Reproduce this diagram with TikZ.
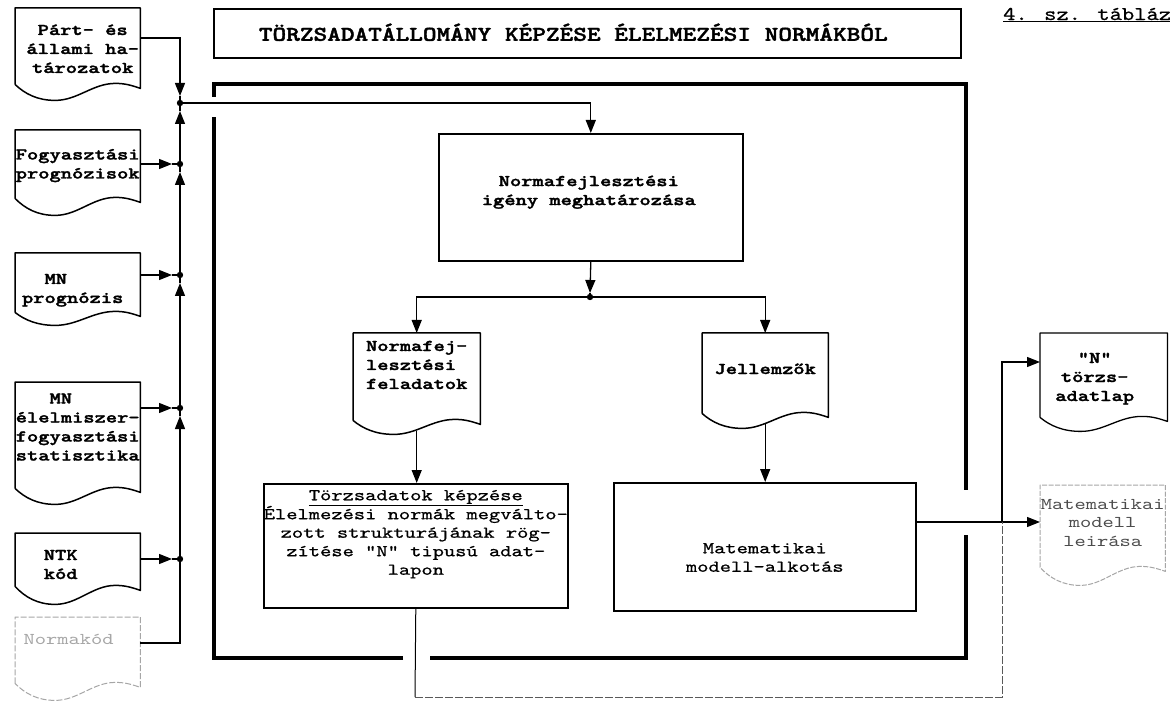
\documentclass[tikz,border=0pt]{standalone}
\usepackage{graphicx}
\usepackage{fontspec}
\newfontfamily\twbfam{lmmonolt10-bold.otf}[FakeBold=1.6]
\newfontfamily\twrfam{lmmono10-regular.otf}[FakeBold=0.6]
\newfontfamily\twlfam{lmmono10-regular.otf}
\usetikzlibrary{arrows.meta,calc}
\newcommand\bodyb{\twbfam\fontsize{16.5}{19}\selectfont}
\newcommand\bodyr{\twrfam\fontsize{16.5}{18.5}\selectfont}
\newcommand\bodyl{\twlfam\fontsize{16.5}{18.5}\selectfont}
\newcommand\tw[2][c]{\scalebox{1.3}[1]{\begin{tabular}{@{}#1@{}}#2\end{tabular}}}
% document symbol outline drawn round a node: #1 style, #2 node, #3 dip
\newcommand\docout[3][]{%
  \draw[line width=1.5pt,line join=round,#1] (#2.south west) -- (#2.north west) -- (#2.north east) -- ($(#2.south east)+(0,4)$)
   .. controls ($(#2.south west)!0.93!(#2.south east)+(0,1)$) and ($(#2.south west)!0.88!(#2.south east)+(0,-1)$) .. ($(#2.south west)!0.8!(#2.south east)+(0,-1)$)
   .. controls ($(#2.south west)!0.62!(#2.south east)+(0,-1)$) and ($(#2.south west)!0.5!(#2.south east)+(0,#3)$) .. ($(#2.south west)!0.32!(#2.south east)+(0,#3)$)
   .. controls ($(#2.south west)!0.18!(#2.south east)+(0,#3)$) and ($(#2.south west)!0.08!(#2.south east)+(0,0.6*#3)$) .. (#2.south west);}
\tikzset{
  conn/.style={line width=1.3pt},
  arr/.style={conn,-{Triangle[length=13pt,width=10pt]}},
  docn/.style={inner sep=0pt,anchor=north west},
  boxn/.style={draw,line width=1.6pt,inner sep=0pt,anchor=north west},
  frame/.style={line width=4.5pt},
  tb/.style={font=\bodyb,inner sep=0pt},
  tr/.style={font=\bodyr,inner sep=0pt},
  tl/.style={font=\bodyl,inner sep=0pt},
  faint/.style={gray!70},
}
\begin{document}
\begin{tikzpicture}[x=1pt,y=-1pt]
\useasboundingbox[fill=white] (0,0) rectangle (1170,711);

% title
\node[boxn,minimum width=747pt,minimum height=49pt,
  label={[inner sep=0pt,xshift=-14pt,yshift=1pt]center:\scalebox{1.24}[1]{\twbfam\fontsize{21}{24}\selectfont TÖRZSADATÁLLOMÁNY KÉPZÉSE ÉLELMEZÉSI NORMÁKBÓL}}] (title) at (213,8) {};
\node[anchor=west,inner sep=0pt] (tab) at (1003,15) {\scalebox{1.2}[1]{\twrfam\fontsize{19.5}{22}\selectfont\underline{4. sz. tábláz}}};

% frame
\draw[frame] (214,97) -- (214,84) -- (966,84) -- (966,490);
\draw[frame] (966,535) -- (966,658) -- (430,658);
\draw[frame] (403,658) -- (214,658) -- (214,117);

% left input documents
\node[docn,minimum width=125pt,minimum height=76pt,label={[tb,xshift=5pt,yshift=-4pt]center:\tw{Párt- és\\állami ha-\\tározatok}}] (d1) at (15,8) {};
\node[docn,minimum width=125pt,minimum height=68pt,label={[tb,yshift=-1pt]center:\tw{Fogyasztási\\prognózisok}}] (d2) at (15,130) {};
\node[docn,minimum width=125pt,minimum height=59pt,label={[tb,xshift=-5pt,yshift=-7pt]center:\tw[l]{~~MN\\prognózis}}] (d3) at (15,253) {};
\node[docn,minimum width=125pt,minimum height=106pt,label={[tb,yshift=7pt]center:\tw[l]{~~~MN\\élelmiszer-\\fogyasztási\\statisztika}}] (d4) at (15,382) {};
\node[docn,minimum width=125pt,minimum height=53pt,label={[tb,xshift=-17pt,yshift=-6pt]center:\tw{NTK\\kód}}] (d5) at (15,533) {};
\node[docn,minimum width=125pt,minimum height=66pt,label={[tl,faint,xshift=-9pt,yshift=9pt]center:\tw{Normakód}}] (d6) at (15,617) {};
\docout{d1}{16}
\docout{d2}{17}
\docout{d3}{13}
\docout{d4}{16}
\docout{d5}{18}
\docout[faint,line width=1pt,dash pattern=on 6pt off 2pt]{d6}{17}

% central boxes and documents
\node[boxn,minimum width=304pt,minimum height=127pt,label={[tb,xshift=-2pt,yshift=5.5pt]center:\tw{Normafejlesztési\\igény meghatározása}}] (B1) at (438,133) {};
\node[docn,minimum width=127pt,minimum height=87pt,label={[tb,yshift=10.5pt]center:\tw[l]{Normafej-\\lesztési\\feladatok}}] (D7) at (353,333) {};
\node[docn,minimum width=126pt,minimum height=80pt,label={[tb,yshift=3pt]center:\tw{Jellemzők}}] (D8) at (702,333) {};
\docout{D7}{14}
\docout{D8}{15}
\node[boxn,minimum width=304pt,minimum height=124pt,label={[tr,yshift=12pt]center:\tw{\underline{Törzsadatok képzése}\\Élelmezési normák megválto-\\zott strukturájának rög-\\zítése "N" tipusú adat-\\lapon}}] (B2) at (263,483) {};
\node[boxn,minimum width=302pt,minimum height=128pt,label={[tr,yshift=-12pt]center:\tw{Matematikai\\modell-alkotás}}] (B3) at (613,482) {};

% output documents
\node[docn,minimum width=127pt,minimum height=84pt,label={[tb,xshift=-9pt,yshift=-3pt]center:\tw{"N"\\törzs-\\adatlap}}] (D10) at (1040,333) {};
\node[docn,minimum width=125pt,minimum height=82pt,label={[tl,gray!60!black,yshift=2pt]center:\tw{Matematikai\\modell\\leirása}}] (D9) at (1040,485) {};
\docout[line width=1.3pt]{D10}{14}
\docout[gray!70,line width=1pt,dash pattern=on 5pt off 1.5pt]{D9}{18}

% junction points
\coordinate (K1) at (180,38);
\coordinate (J0) at (180,103);
\coordinate (J2) at (180,164);
\coordinate (J3) at (180,275);
\coordinate (J4) at (180,408);
\coordinate (J5) at (180,559);
\coordinate (K6) at (180,643);
\coordinate (JB) at (590,297);
\coordinate (C1) at (415,697);
\coordinate (C2) at (1002,697);
\coordinate (C3) at (1002,522);
\coordinate (C4) at (1002,362);

% left bus (arrow heads just before each junction)
\draw[arr] (d1.east |- K1) -- (K1) -- ($(J0)+(0,-7)$);
\draw[conn] ($(J0)+(0,-7)$) -- (J0);
\foreach \a/\b in {J2/J0,J3/J2,J4/J3,J5/J4}{
  \draw[arr] (\a) -- ($(\b)+(0,8)$);
  \draw[conn] ($(\b)+(0,8)$) -- (\b);
}
\draw[conn] (d6.east |- K6) -- (K6) -- (J5);
\foreach \d/\j in {d2/J2,d3/J3,d4/J4,d5/J5}{
  \draw[arr] (\d.east |- \j) -- ($(\j)+(-8,0)$);
  \draw[conn] ($(\j)+(-8,0)$) -- (\j);
}
\foreach \j in {J0,J2,J3,J4,J5} \fill (\j) circle (3.2pt);

% central flow
\draw[arr] (J0) -- (B1.north |- J0) -- (B1.north);
\draw[arr] (B1.south) -- ($(JB)+(0,-4)$);
\draw[conn] ($(JB)+(0,-4)$) -- (JB);
\fill (JB) circle (3.2pt);
\draw[arr] (JB) -- (D7.north |- JB) -- (D7.north);
\draw[arr] (JB) -- (D8.north |- JB) -- (D8.north);
\draw[arr] ($(D7.south)+(0,10.5)$) -- (D7.south |- B2.north);
\draw[arr] ($(D8.south)+(0,10.5)$) -- (D8.south |- B3.north);

% outputs
\draw[arr] (B3.east |- C3) -- (D9.west |- C3);
\draw[line width=1pt] (B2.south) -- (C1);
\draw[line width=1pt,gray!70!black,dash pattern=on 8pt off 2pt] (C1) -- (C2) -- (C3);
\draw[arr] (C3) -- (C4) -- (D10.west |- C4);
\end{tikzpicture}
\end{document}
